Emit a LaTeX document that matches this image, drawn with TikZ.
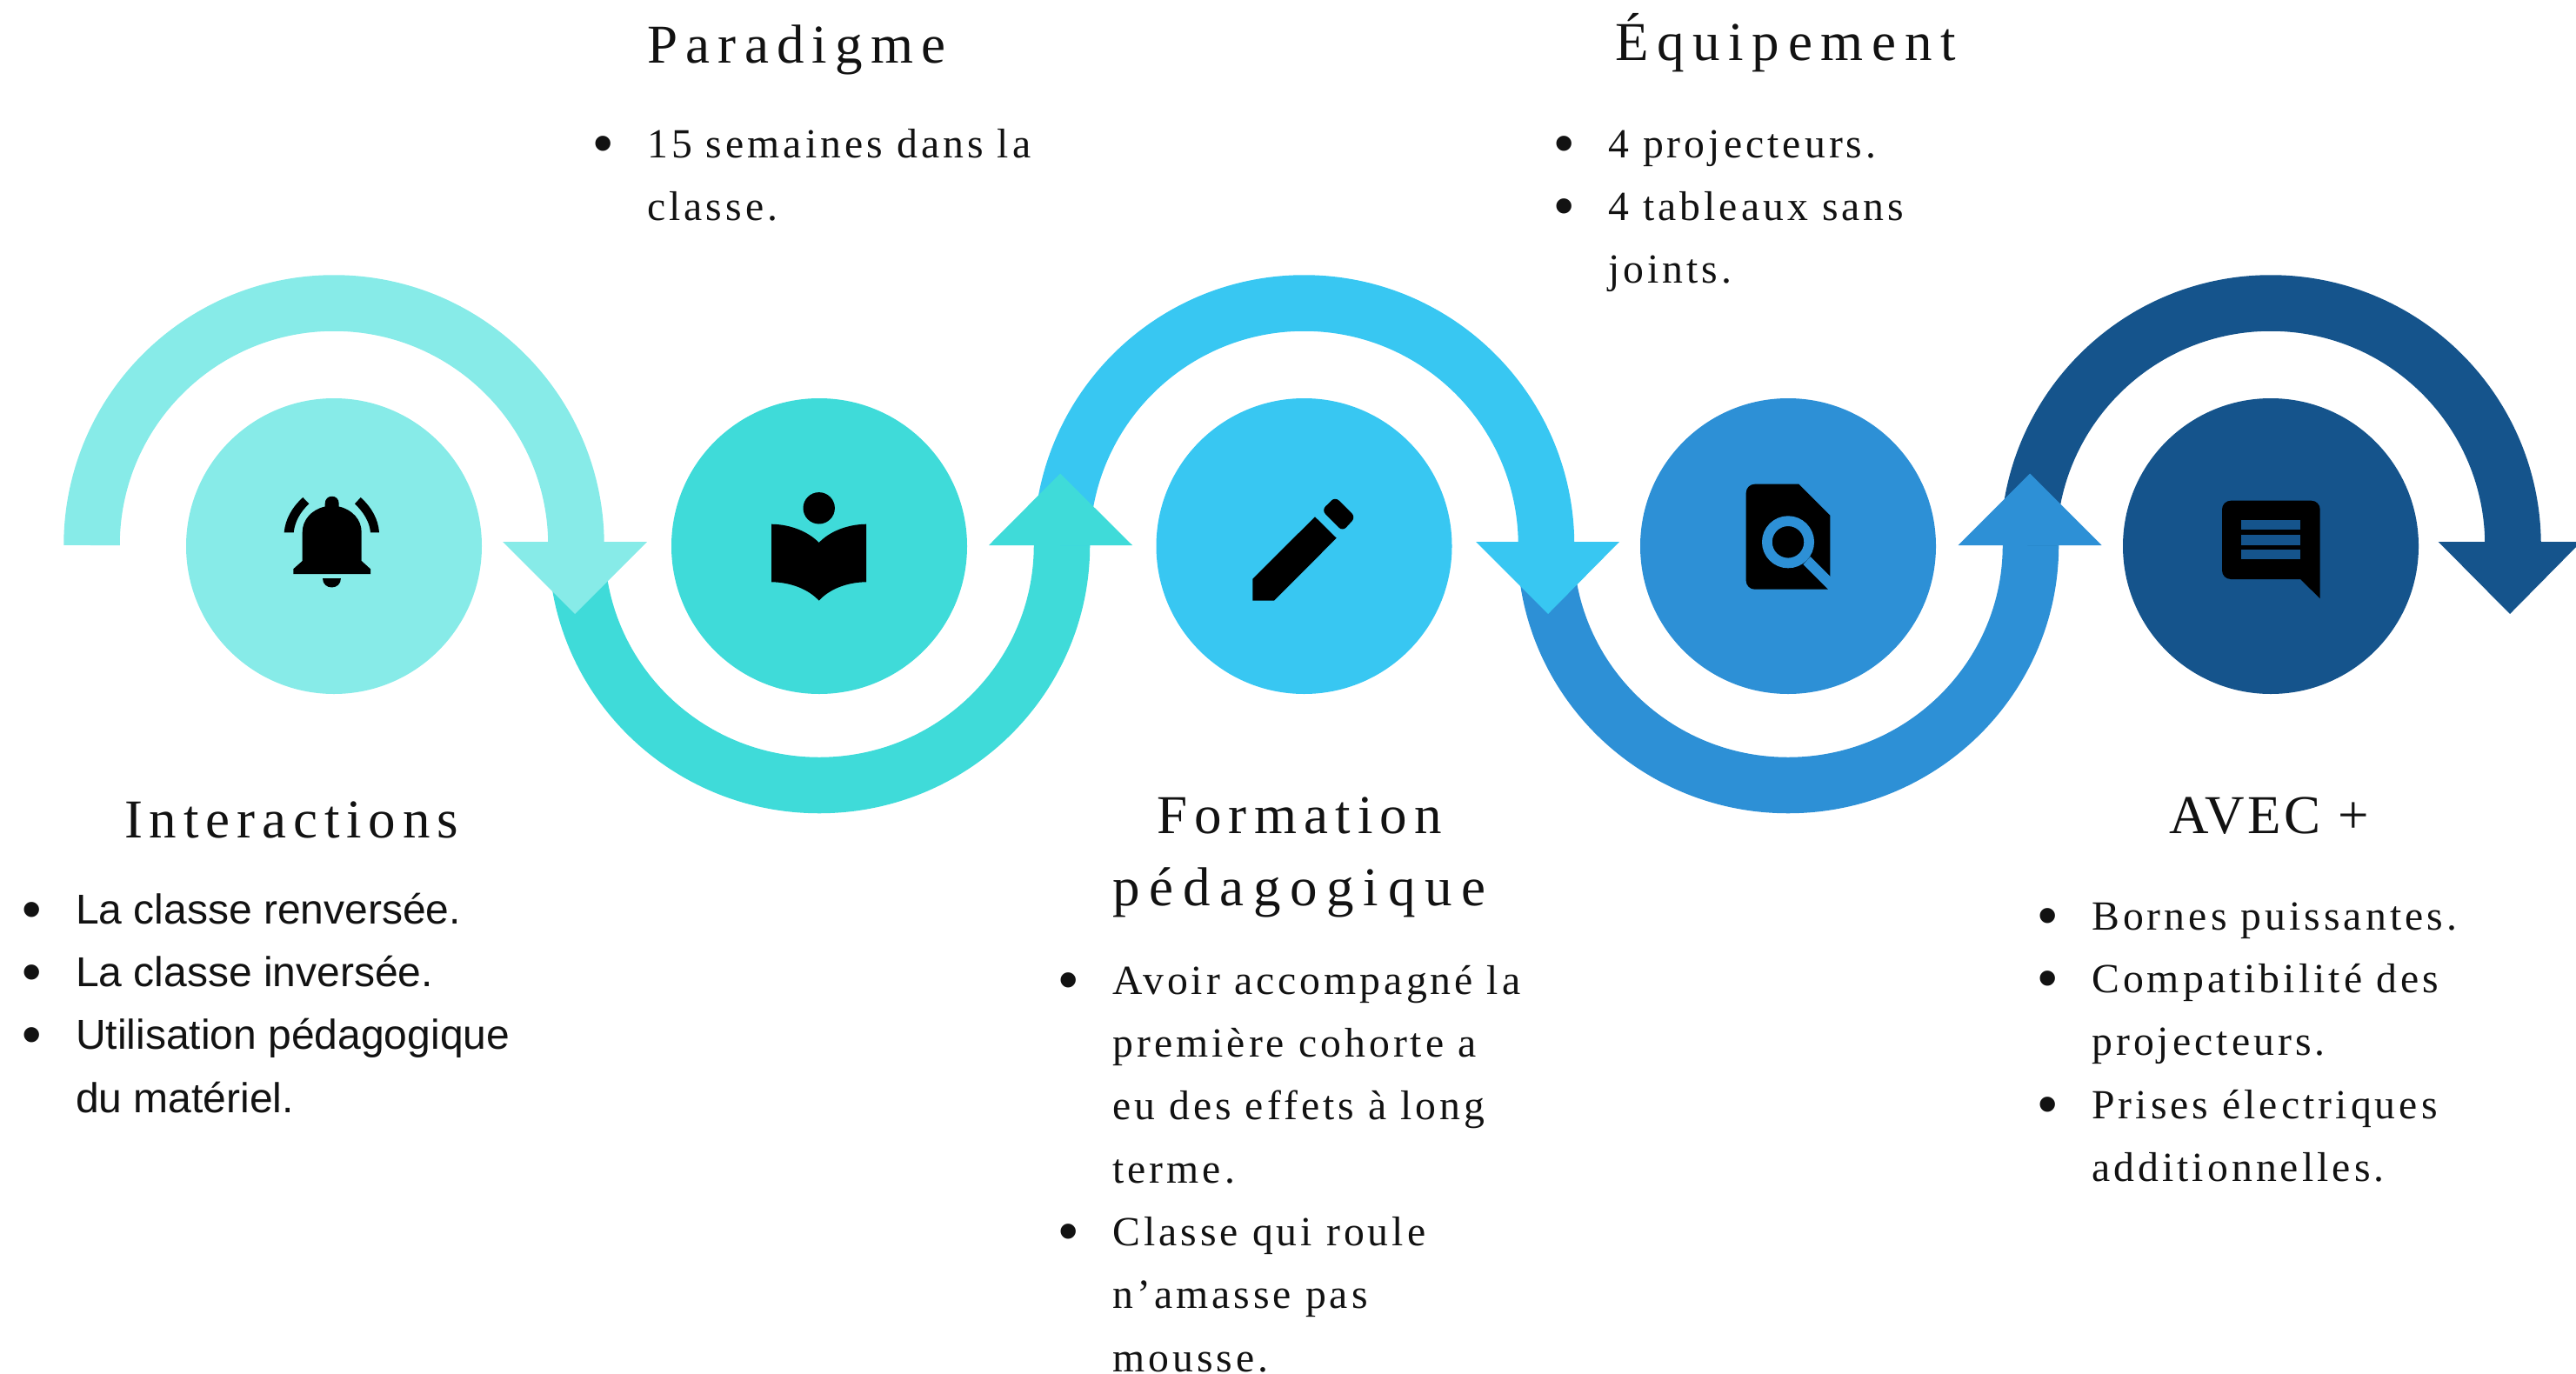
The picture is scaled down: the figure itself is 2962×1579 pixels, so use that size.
\documentclass[tikz,border=0pt]{standalone}
\usepackage{fontspec}
\usepackage{tikz}

\newfontfamily\headfam[LetterSpace=13]{Liberation Serif}
\newfontfamily\listfam[LetterSpace=8.5]{Liberation Serif}
\newfontfamily\sansfam{Liberation Sans}

\newcommand{\bul}{\strut\llap{\raisebox{-5pt}{\sansfam\fontsize{64}{72}\selectfont •}\hspace{39pt}}}

\definecolor{colaqua}{HTML}{87EBE8}
\definecolor{colteal}{HTML}{3FDBD9}
\definecolor{colsky}{HTML}{38C7F2}
\definecolor{colblue}{HTML}{2D90D6}
\definecolor{colnavy}{HTML}{15548C}

\tikzset{
  disc/.style={circle, inner sep=0pt, minimum size=340pt},
  band/.style={line width=64.5pt},
  heading/.style={anchor=base, inner sep=0pt, text=black!93, font=\headfam\fontsize{63}{83}\selectfont},
  serifitems/.style={anchor=north west, align=left, inner sep=0pt, text=black!93, font=\listfam\fontsize{47.7}{72.3}\selectfont},
  sansitems/.style={anchor=north west, align=left, inner sep=0pt, text=black!93, font=\sansfam\fontsize{48}{72.3}\selectfont}
}

\begin{document}
\begin{tikzpicture}[x=1pt,y=-1pt]
  \useasboundingbox (0,0) rectangle (2962,1579);

  % Arcs

  \draw[band, colaqua] (105.5,627) arc[start angle=180, end angle=0, radius=278.5pt];
  \draw[band, colteal] (663,627) arc[start angle=180, end angle=360, x radius=279pt, y radius=276pt];
  \draw[band, colsky] (1221,627) arc[start angle=180, end angle=0, radius=278.5pt];
  \draw[band, colblue] (1777,627) arc[start angle=180, end angle=360, x radius=279pt, y radius=276pt];
  \draw[band, colnavy] (2332.5,627) arc[start angle=180, end angle=0, radius=278.5pt];

  % Arrow heads

  \fill[colnavy] (2803.7,623) -- (2962,623) -- (2962,629) -- (2886,706) -- cycle;
  \fill[colblue] (2251.5,627) -- (2416.5,627) -- (2334,544.5) -- cycle;
  \fill[colsky] (1697,623) -- (1862,623) -- (1780,706) -- cycle;
  \fill[colteal] (1137,627) -- (1302,627) -- (1219,544.5) -- cycle;
  \fill[colaqua] (578,623) -- (744,623) -- (661,706) -- cycle;

  % Step 1

  \node[disc, fill=colaqua] (d1) at (384,628) {};
  \fill (337.3,660) -- (337.3,654.3) -- (347.7,645) -- (347.7,612)
    .. controls (347.7,598) and (358,586) .. (373.7,582.5) -- (373.7,579)
    .. controls (373.7,568) and (389.7,568) .. (389.7,579) -- (389.7,582.5)
    .. controls (405.5,586) and (415.7,598) .. (415.7,612) -- (415.7,645)
    -- (426,654.3) -- (426,660) -- cycle;
  \fill (371,665) -- (391.7,665) .. controls (391.7,679) and (371,679) .. (371,665) -- cycle;
  \fill (326.7,612.3) .. controls (328,597) and (336,583) .. (348.3,572) -- (355.3,579.3)
    .. controls (345,589) and (339,600) .. (337.7,612.3) -- cycle;
  \fill (436,612.3) .. controls (435,597) and (427,583) .. (414.7,572) -- (408,579.3)
    .. controls (418,589) and (425,600) .. (426,612.3) -- cycle;

  \node[heading] (h1) at (335,963) {\addfontfeature{LetterSpace=12.5}Interactions};
  \node[sansitems] (l1) at (87,1011.4) {\bul La classe renversée.\\
    \bul La classe inversée.\\
    \bul Utilisation pédagogique\\
    du matériel.};

  % Step 2

  \node[disc, fill=colteal] (d2) at (942,628) {};
  \fill (941.7,584.3) circle[radius=18.2pt];
  \fill (887,602.7) .. controls (910,603) and (930,612) .. (941.7,624)
    .. controls (953,612) and (973,603) .. (996,602.7) -- (996,669.3)
    .. controls (973,669.5) and (953,678) .. (941.7,690.7)
    .. controls (930,678) and (910,669.5) .. (887,669.3) -- cycle;

  \node[heading] (h2) at (916,72) {\addfontfeature{LetterSpace=14.5}Paradigme};
  \node[serifitems] (l2) at (744,130.4) {\bul 15 semaines dans la\\
    classe.};

  % Step 3

  \node[disc, fill=colsky] (d3) at (1499.5,628) {};
  \fill (1440.3,665.7) -- (1512,594.3) -- (1536.7,618.7) -- (1465,690.7) -- (1440.3,690.7) -- cycle;
  \fill[rounded corners=6pt] (1519.7,586.7) -- (1535.3,571.3) -- (1558.7,594.7) -- (1543.7,611) -- cycle;

  \node[heading] (h3) at (1494,958) {Formation};
  \node[heading] (h3b) at (1494,1041) {\addfontfeature{LetterSpace=17}pédagogique};
  \node[serifitems] (l3) at (1279,1092.4) {\bul Avoir accompagné la\\
    première cohorte a\\
    eu des effets à long\\
    terme.\\
    \bul Classe qui roule\\
    n’amasse pas\\
    mousse.};

  % Step 4

  \node[disc, fill=colblue] (d4) at (2056,628) {};
  \fill (2104.3,592.7) -- (2104.3,677.7) [rounded corners=10pt] -- (2007.7,677.7) -- (2007.7,556.7)
    [sharp corners] -- (2068.3,556.7) -- cycle;
  \draw[colblue, line width=11.7pt] (2056,623.3) circle[radius=24.15pt];
  \fill[colblue] (2081.7,640) -- (2116.7,675) -- (2108.3,684) -- (2073.3,649) -- cycle;

  \node[heading, anchor=base west] (h4) at (1857,70) {\addfontfeature{LetterSpace=15.4}Équipement};
  \node[serifitems] (l4) at (1849,130.4) {\bul 4 projecteurs.\\
    \bul 4 tableaux sans\\
    joints.};

  % Step 5

  \node[disc, fill=colnavy] (d5) at (2611,628) {};
  \fill (2645,666) -- (2667.7,688.3) -- (2667.7,640) [rounded corners=10pt] -- (2667.7,575.7)
    -- (2555,575.7) -- (2555,666) [sharp corners] -- cycle;
  \fill[colnavy] (2577.3,598.3) rectangle (2645,609.3);
  \fill[colnavy] (2577.3,615.3) rectangle (2645,626.7);
  \fill[colnavy] (2577.3,632) rectangle (2645,643.3);

  \node[heading] (h5) at (2609,958) {\addfontfeature{LetterSpace=6}AVEC +};
  \node[serifitems] (l5) at (2405,1018.4) {\bul Bornes puissantes.\\
    \bul Compatibilité des\\
    projecteurs.\\
    \bul Prises électriques\\
    additionnelles.};

\end{tikzpicture}
\end{document}
